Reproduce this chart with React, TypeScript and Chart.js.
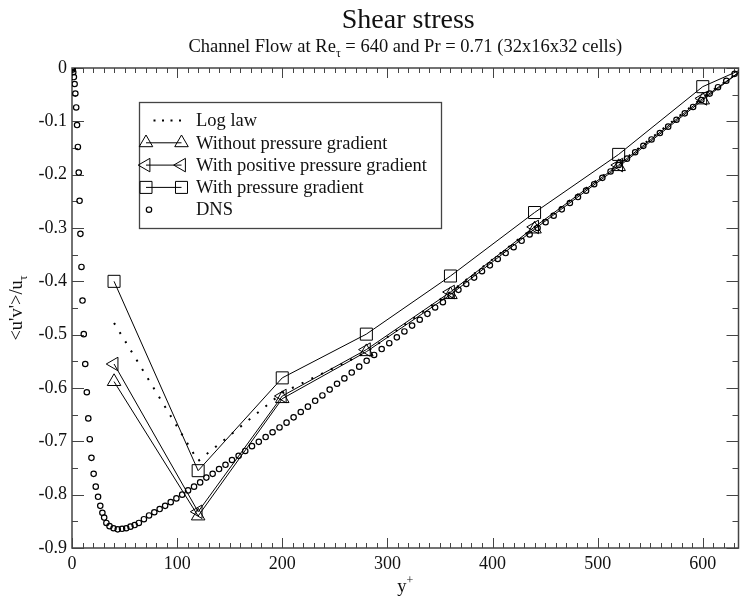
import { useEffect, useRef } from 'react';
import { Chart, registerables } from 'chart.js';

Chart.register(...registerables);

const SERIF = '"Liberation Serif", "Times New Roman", Times, serif';
const INK = '#111';
const FRAME = '#444';

// LES cell centres (y+) and the channel centre line
const cellYPlus = [40, 120, 200, 280, 360, 440, 520, 600, 640];
const logLaw = [-0.478, -0.737, -0.609, -0.533, -0.42, -0.298, -0.18, -0.055, 0];
const withoutGradient = [-0.588, -0.84, -0.62, -0.532, -0.425, -0.302, -0.185, -0.06, 0];
const positiveGradient = [-0.555, -0.832, -0.615, -0.528, -0.42, -0.298, -0.182, -0.057, 0];
const withGradient = [-0.4, -0.755, -0.581, -0.499, -0.39, -0.271, -0.162, -0.035, 0];

// DNS reference profile
const dnsYPlus = [
  0, 0.3, 0.7, 1.2, 1.8, 2.5, 3.2, 4.0, 4.8, 5.6,
  6.4, 7.2, 8.0, 9.0, 10.0, 11.2, 12.6, 14.1, 15.5, 16.9,
  18.5, 20.6, 22.6, 24.8, 26.9, 28.9, 30.6, 32.7, 35.7, 39.5,
  43.5, 47.6, 51.6, 55.6, 59.6, 63.6,
  68.4, 73.3, 78.3, 83.4, 88.6, 93.9, 99.3, 104.8, 110.4, 116.1,
  121.9, 127.8, 133.8, 139.9, 146.0, 152.2, 158.5, 164.8, 171.2, 177.7,
  184.2, 190.8, 197.4, 204.1, 210.8, 217.6, 224.4, 231.3, 238.2, 245.1,
  252.1, 259.1, 266.1, 273.2, 280.3, 287.4, 294.6, 301.8, 309.0, 316.2,
  323.5, 330.8, 338.1, 345.4, 352.8, 360.2, 367.6, 375.0, 382.5, 390.0,
  397.5, 405.0, 412.5, 420.1, 427.7, 435.3, 442.9, 450.5, 458.2, 465.9,
  473.6, 481.3, 489.0, 496.7, 504.5, 512.3, 520.1, 527.9, 535.7, 543.5,
  551.3, 559.2, 567.1, 575.0, 582.9, 590.8, 598.7, 606.6, 614.5, 622.4,
  630.3,
];
const dnsStress = [
  0, -0.001, -0.003, -0.008, -0.017, -0.03, -0.048, -0.074, -0.107, -0.148,
  -0.196, -0.249, -0.311, -0.373, -0.436, -0.499, -0.555, -0.608, -0.657, -0.696,
  -0.731, -0.761, -0.785, -0.804, -0.821, -0.834, -0.843, -0.853, -0.859, -0.863,
  -0.865, -0.864, -0.863, -0.86, -0.857, -0.853,
  -0.846, -0.839, -0.833, -0.827, -0.821, -0.814, -0.807, -0.8, -0.792, -0.785,
  -0.777, -0.768, -0.761, -0.752, -0.744, -0.735, -0.727, -0.718, -0.709, -0.701,
  -0.692, -0.683, -0.674, -0.665, -0.655, -0.645, -0.635, -0.624, -0.614, -0.603,
  -0.592, -0.582, -0.571, -0.56, -0.549, -0.538, -0.527, -0.516, -0.505, -0.494,
  -0.483, -0.472, -0.461, -0.449, -0.439, -0.427, -0.416, -0.405, -0.393, -0.381,
  -0.37, -0.358, -0.347, -0.336, -0.324, -0.312, -0.3, -0.289, -0.277, -0.265,
  -0.253, -0.242, -0.23, -0.218, -0.206, -0.194, -0.182, -0.17, -0.158, -0.146,
  -0.134, -0.122, -0.11, -0.097, -0.085, -0.073, -0.06, -0.048, -0.036, -0.024,
  -0.011,
];

const xTickValues = [0, 100, 200, 300, 400, 500, 600];
const yTickValues = [0, -0.1, -0.2, -0.3, -0.4, -0.5, -0.6, -0.7, -0.8, -0.9];
const seriesLabels = [
  'Log law',
  'Without pressure gradient',
  'With positive pressure gradient',
  'With pressure gradient',
  'DNS',
];

const X_MIN = 0;
const X_MAX = 634;
const Y_MIN = -0.9;
const Y_MAX = 0;
const X_MINOR = 10;
const X_MAJOR = 100;
const Y_MINOR = 0.05;

const TRI_R = 7.8;
const RECT_R = 8.5;
const DNS_R = 2.7;

const pairs = (xs: number[], ys: number[]) => xs.map((x, i) => ({ x, y: ys[i] }));
// markers on every cell centre, none on the centre-line end point
const markerSizes = (r: number) => cellYPlus.map((v) => (v >= 640 ? 0 : r));

type Run = { text: string; size: number; dy?: number };

function runsWidth(ctx: CanvasRenderingContext2D, runs: Run[]) {
  let w = 0;
  for (const r of runs) {
    ctx.font = `${r.size}px ${SERIF}`;
    w += ctx.measureText(r.text).width;
  }
  return w;
}

function drawRuns(ctx: CanvasRenderingContext2D, runs: Run[], cx: number, baseline: number) {
  let x = cx - runsWidth(ctx, runs) / 2;
  ctx.textAlign = 'left';
  ctx.textBaseline = 'alphabetic';
  for (const r of runs) {
    ctx.font = `${r.size}px ${SERIF}`;
    ctx.fillText(r.text, x, baseline + (r.dy || 0));
    x += ctx.measureText(r.text).width;
  }
}

function marker(ctx: CanvasRenderingContext2D, kind: string, x: number, y: number) {
  ctx.beginPath();
  if (kind === 'up') {
    const r = TRI_R;
    ctx.moveTo(x, y - r);
    ctx.lineTo(x + 0.866 * r, y + 0.5 * r);
    ctx.lineTo(x - 0.866 * r, y + 0.5 * r);
    ctx.closePath();
  } else if (kind === 'left') {
    const r = TRI_R;
    ctx.moveTo(x - r, y);
    ctx.lineTo(x + 0.5 * r, y - 0.866 * r);
    ctx.lineTo(x + 0.5 * r, y + 0.866 * r);
    ctx.closePath();
  } else if (kind === 'square') {
    const s = RECT_R * Math.SQRT1_2;
    ctx.rect(x - s, y - s, 2 * s, 2 * s);
  } else {
    ctx.arc(x, y, DNS_R, 0, Math.PI * 2);
  }
  ctx.stroke();
}

const frameAndTicks = {
  id: 'frameAndTicks',
  beforeDatasetsDraw(chart: any) {
    const { ctx, chartArea: a } = chart;
    const sx = chart.scales.x;
    const sy = chart.scales.y;
    ctx.save();
    ctx.strokeStyle = FRAME;
    ctx.lineWidth = 1;
    ctx.beginPath();
    const nx = Math.floor((X_MAX - X_MIN) / X_MINOR + 1e-9);
    for (let k = 0; k <= nx; k++) {
      const v = X_MIN + k * X_MINOR;
      const px = Math.round(sx.getPixelForValue(v)) + 0.5;
      const len = v % X_MAJOR === 0 ? 10 : 5;
      ctx.moveTo(px, a.bottom);
      ctx.lineTo(px, a.bottom - len);
      ctx.moveTo(px, a.top);
      ctx.lineTo(px, a.top + len);
    }
    const ny = Math.round((Y_MAX - Y_MIN) / Y_MINOR);
    for (let k = 0; k <= ny; k++) {
      const v = Y_MAX - k * Y_MINOR;
      const py = Math.round(sy.getPixelForValue(v)) + 0.5;
      const len = k % 2 === 0 ? 12 : 6;
      ctx.moveTo(a.left, py);
      ctx.lineTo(a.left + len, py);
      ctx.moveTo(a.right, py);
      ctx.lineTo(a.right - len, py);
    }
    ctx.stroke();
    ctx.lineWidth = 1.5;
    ctx.strokeRect(a.left, a.top, a.right - a.left, a.bottom - a.top);
    ctx.restore();
  },
};

const annotations = {
  id: 'annotations',
  afterDraw(chart: any) {
    const { ctx, chartArea: a } = chart;
    const cx = (a.left + a.right) / 2;
    const cy = (a.top + a.bottom) / 2;
    ctx.save();
    ctx.fillStyle = INK;

    drawRuns(ctx, [{ text: 'Shear stress', size: 28 }], cx + 3, 28);
    drawRuns(
      ctx,
      [
        { text: 'Channel Flow at Re', size: 18.5 },
        { text: 'τ', size: 12, dy: 5 },
        { text: ' = 640 and Pr = 0.71 (32x16x32 cells)', size: 18.5 },
      ],
      cx,
      52,
    );

    drawRuns(ctx, [{ text: 'y', size: 18.5 }, { text: '+', size: 12, dy: -8 }], cx, 592);

    ctx.save();
    ctx.translate(22, cy);
    ctx.rotate(-Math.PI / 2);
    drawRuns(ctx, [{ text: "<u'v'>/u", size: 18.5 }, { text: 'τ', size: 12, dy: 5 }], 0, 0);
    ctx.restore();

    // legend
    const box = { left: 139.5, top: 102.5, width: 302, height: 126 };
    const rowTop = 120.5;
    const rowGap = 22.3;
    const x0 = 146;
    const x1 = 181.5;
    const textX = 196;
    ctx.fillStyle = '#fff';
    ctx.fillRect(box.left, box.top, box.width, box.height);
    ctx.strokeStyle = FRAME;
    ctx.lineWidth = 1.3;
    ctx.strokeRect(box.left, box.top, box.width, box.height);

    const kinds = ['dots', 'up', 'left', 'square', 'circle'];
    ctx.strokeStyle = '#000';
    ctx.fillStyle = '#000';
    seriesLabels.forEach((label, i) => {
      const y = rowTop + i * rowGap;
      const kind = kinds[i];
      ctx.lineWidth = 1;
      if (kind === 'dots') {
        ctx.save();
        ctx.lineWidth = 2;
        ctx.setLineDash([2, 6.5]);
        ctx.beginPath();
        ctx.moveTo(x0 + 7.5, y);
        ctx.lineTo(x1 + 1, y);
        ctx.stroke();
        ctx.restore();
      } else if (kind === 'circle') {
        ctx.lineWidth = 1.2;
        marker(ctx, 'circle', x0 + 3, y);
      } else {
        ctx.beginPath();
        ctx.moveTo(x0, y);
        ctx.lineTo(x1, y);
        ctx.stroke();
        marker(ctx, kind, x0, y);
        marker(ctx, kind, x1, y);
      }
      ctx.fillStyle = INK;
      ctx.font = `18.5px ${SERIF}`;
      ctx.textAlign = 'left';
      ctx.textBaseline = 'alphabetic';
      ctx.fillText(label, textX, y + 5.7);
    });
    ctx.restore();
  },
};

export default function App() {
  const canvasRef = useRef<HTMLCanvasElement>(null);

  useEffect(() => {
    const canvas = canvasRef.current;
    if (!canvas) return;

    const modelLine = {
      borderColor: '#000',
      borderWidth: 1,
      pointBorderColor: '#000',
      pointBackgroundColor: 'rgba(0,0,0,0)',
      pointBorderWidth: 1,
      tension: 0,
      fill: false,
    };

    const chart = new Chart(canvas, {
      type: 'line',
      data: {
        datasets: [
          {
            ...modelLine,
            label: seriesLabels[0],
            data: pairs(cellYPlus, logLaw),
            borderWidth: 2,
            borderDash: [2, 8.8],
            pointRadius: 0,
            order: 4,
          },
          {
            ...modelLine,
            label: seriesLabels[1],
            data: pairs(cellYPlus, withoutGradient),
            pointStyle: 'triangle',
            pointRadius: markerSizes(TRI_R),
            order: 3,
          },
          {
            ...modelLine,
            label: seriesLabels[2],
            data: pairs(cellYPlus, positiveGradient),
            pointStyle: 'triangle',
            pointRotation: -90,
            pointRadius: markerSizes(TRI_R),
            order: 2,
          },
          {
            ...modelLine,
            label: seriesLabels[3],
            data: pairs(cellYPlus, withGradient),
            pointStyle: 'rect',
            pointRadius: markerSizes(RECT_R),
            order: 1,
          },
          {
            label: seriesLabels[4],
            data: pairs(dnsYPlus, dnsStress),
            showLine: false,
            pointStyle: 'circle',
            pointRadius: DNS_R,
            pointBorderWidth: 1.2,
            pointBorderColor: '#000',
            pointBackgroundColor: 'rgba(0,0,0,0)',
            order: 0,
          },
        ],
      },
      options: {
        responsive: false,
        maintainAspectRatio: false,
        animation: false,
        devicePixelRatio: 1,
        events: [],
        layout: { padding: { left: 0, right: 2, top: 68, bottom: 0 } },
        plugins: {
          legend: { display: false },
          tooltip: { enabled: false },
          title: { display: false },
        },
        scales: {
          x: {
            type: 'linear',
            min: X_MIN,
            max: X_MAX,
            afterBuildTicks: (s: any) => {
              s.ticks = xTickValues.map((value) => ({ value }));
            },
            afterFit: (s: any) => {
              s.height = 51;
            },
            grid: { display: false, drawTicks: false, tickLength: 0 },
            border: { display: false },
            ticks: {
              padding: 5,
              color: INK,
              autoSkip: false,
              maxRotation: 0,
              font: { family: SERIF, size: 18 },
              callback: (v: any) => String(v),
            },
          },
          y: {
            type: 'linear',
            min: Y_MIN,
            max: Y_MAX,
            afterBuildTicks: (s: any) => {
              s.ticks = yTickValues.map((value) => ({ value }));
            },
            afterFit: (s: any) => {
              s.width = 72;
            },
            grid: { display: false, drawTicks: false, tickLength: 0 },
            border: { display: false },
            ticks: {
              padding: 5,
              color: INK,
              autoSkip: false,
              font: { family: SERIF, size: 18 },
              callback: (v: any) => String(v),
            },
          },
        },
      },
      plugins: [frameAndTicks, annotations],
    } as any);

    return () => chart.destroy();
  }, []);

  return (
    <div style={{ position: 'absolute', left: 0, top: 0, width: 748, height: 599, background: '#fff' }}>
      <canvas ref={canvasRef} width={748} height={599} style={{ display: 'block', width: 748, height: 599 }} />
    </div>
  );
}
